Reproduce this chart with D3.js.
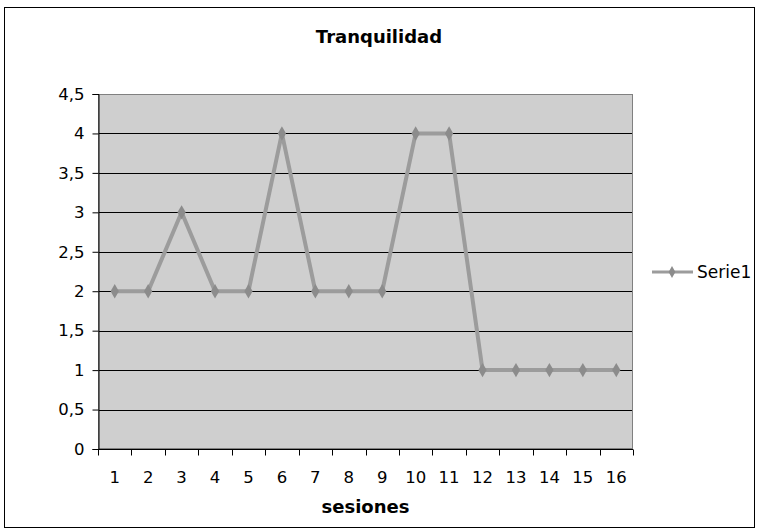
<!DOCTYPE html>
<html>
<head>
<meta charset="utf-8">
<script src="https://cdn.jsdelivr.net/npm/d3@7"></script>
<style>
body { margin: 0; background: #fff; }
svg { font-family: "DejaVu Sans", Verdana, sans-serif; }
</style>
</head>
<body>
<svg width="758" height="532"></svg>
<script>
// chart data
const sesiones = ["1","2","3","4","5","6","7","8","9","10","11","12","13","14","15","16"];
const serie1 = [2, 2, 3, 2, 2, 4, 2, 2, 2, 4, 4, 1, 1, 1, 1, 1];
const yTicks = [0, 0.5, 1, 1.5, 2, 2.5, 3, 3.5, 4, 4.5];

const svg = d3.select("svg");
const plot = { left: 98, top: 94, right: 633, bottom: 449 };
const fs = 16.5;

// outer border
svg.append("rect")
.attr("x", 4.5).attr("y", 7.5)
.attr("width", 750).attr("height", 520)
.attr("fill", "#fff").attr("stroke", "#000").attr("stroke-width", 1);

// title
svg.append("text")
.attr("x", 379).attr("y", 43)
.attr("text-anchor", "middle")
.attr("font-size", 18).attr("font-weight", "bold")
.text("Tranquilidad");

const x = d3.scaleBand().domain(sesiones).range([plot.left, plot.right]);
const y = d3.scaleLinear().domain([0, 4.5]).range([plot.bottom, plot.top]);

// plot background
svg.append("rect")
.attr("x", plot.left).attr("y", plot.top)
.attr("width", plot.right - plot.left).attr("height", plot.bottom - plot.top)
.attr("fill", "#cfcfcf");

// gridlines
svg.append("g")
.selectAll("line")
.data(yTicks.filter(d => d > 0 && d < 4.5))
.enter().append("line")
.attr("x1", plot.left).attr("x2", plot.right)
.attr("y1", d => Math.round(y(d)) + 0.5).attr("y2", d => Math.round(y(d)) + 0.5)
.attr("stroke", "#000").attr("stroke-width", 1);

// plot border
svg.append("rect")
.attr("x", plot.left + 0.5).attr("y", plot.top + 0.5)
.attr("width", plot.right - plot.left - 1).attr("height", plot.bottom - plot.top - 1)
.attr("fill", "none").attr("stroke", "#808080").attr("stroke-width", 1);

// y axis
const yAxis = svg.append("g")
.attr("transform", `translate(${plot.left + 0.5},0)`)
.call(d3.axisLeft(y).tickValues(yTicks).tickSize(6).tickPadding(8)
.tickFormat(d => String(d).replace(".", ",")));
yAxis.selectAll("text").attr("font-size", fs).attr("fill", "#000").style("font-family", "DejaVu Sans, Verdana, sans-serif");
yAxis.selectAll("line").attr("stroke", "#000");
yAxis.select(".domain").attr("stroke", "#000");

// x axis with ticks at band boundaries
const xAxis = svg.append("g")
.attr("transform", `translate(0,${plot.bottom + 0.5})`);
xAxis.append("line")
.attr("x1", plot.left).attr("x2", plot.right)
.attr("stroke", "#000");
const bounds = sesiones.map(s => x(s)).concat([plot.right]);
xAxis.selectAll("line.tick")
.data(bounds)
.enter().append("line")
.attr("class", "tick")
.attr("x1", d => Math.round(d) + 0.5).attr("x2", d => Math.round(d) + 0.5)
.attr("y1", 0).attr("y2", 6)
.attr("stroke", "#000");
xAxis.selectAll("text")
.data(sesiones)
.enter().append("text")
.attr("x", d => x(d) + x.bandwidth() / 2)
.attr("y", 33)
.attr("text-anchor", "middle")
.attr("font-size", fs)
.text(d => d);

// x axis title
svg.append("text")
.attr("x", (plot.left + plot.right) / 2).attr("y", 513)
.attr("text-anchor", "middle")
.attr("font-size", 18).attr("font-weight", "bold")
.text("sesiones");

// line
const line = d3.line()
.x((d, i) => x(sesiones[i]) + x.bandwidth() / 2)
.y(d => y(d));
svg.append("path")
.datum(serie1)
.attr("d", line)
.attr("fill", "none")
.attr("stroke", "#9c9c9c")
.attr("stroke-width", 4)
.attr("stroke-linejoin", "round");

// diamond markers
const diamond = d3.symbol().type(d3.symbolDiamond).size(60);
svg.append("g")
.selectAll("path")
.data(serie1)
.enter().append("path")
.attr("d", diamond)
.attr("transform", (d, i) => `translate(${x(sesiones[i]) + x.bandwidth() / 2},${y(d)})`)
.attr("fill", "#8c8c8c");

// legend
const lg = svg.append("g").attr("transform", "translate(652,272)");
lg.append("line").attr("x1", 0).attr("x2", 41).attr("stroke", "#9c9c9c").attr("stroke-width", 3);
lg.append("path").attr("d", d3.symbol().type(d3.symbolDiamond).size(40)).attr("transform", "translate(20,0)").attr("fill", "#8c8c8c");
lg.append("text").attr("x", 45).attr("y", 6).attr("font-size", 17).text("Serie1");
</script>
</body>
</html>
